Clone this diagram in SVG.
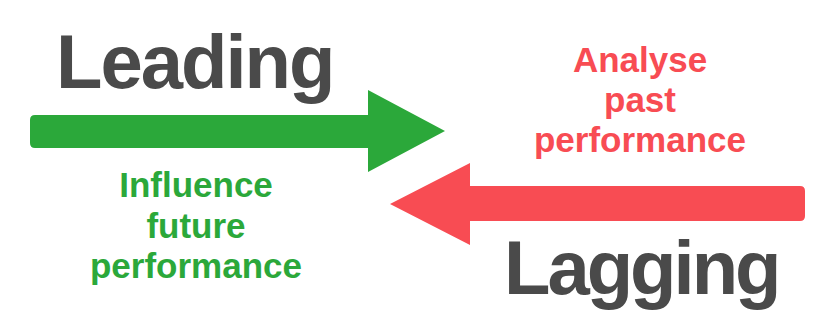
<svg xmlns="http://www.w3.org/2000/svg" width="817" height="320" viewBox="0 0 817 320">
  <style>
    .title { font-family: "Liberation Sans", Arial, sans-serif; font-weight: bold; font-size: 76px; fill: #4a4a4a; letter-spacing: -3px; }
    .note { font-family: "Liberation Sans", Arial, sans-serif; font-weight: bold; font-size: 35px; text-anchor: middle; }
    .lead { fill: #2ba83a; }
    .lag { fill: #f84c53; }
  </style>
  <rect width="817" height="320" fill="#ffffff"/>

  <!-- Big arrows -->
  <g id="arrows">
    <path class="lead" d="M35,115 H368 V90 L445,131 L368,172 V148 H35 Q30,148 30,143 V120 Q30,115 35,115 Z"/>
    <path class="lag" d="M800,186 H470 V163 L390,204 L470,245 V221 H800 Q805,221 805,216 V191 Q805,186 800,186 Z"/>
  </g>

  <!-- Leading indicators -->
  <g id="leading">
    <text class="title" x="56" y="88" style="letter-spacing:-2px">Leading</text>
    <text class="note lead" x="196" y="197">Influence</text>
    <text class="note lead" x="196" y="238">future</text>
    <text class="note lead" x="196" y="278">performance</text>
  </g>

  <!-- Lagging indicators -->
  <g id="lagging">
    <text class="title" x="504" y="294">Lagging</text>
    <text class="note lag" x="640" y="72">Analyse</text>
    <text class="note lag" x="640" y="112">past</text>
    <text class="note lag" x="640" y="152">performance</text>
  </g>
</svg>
